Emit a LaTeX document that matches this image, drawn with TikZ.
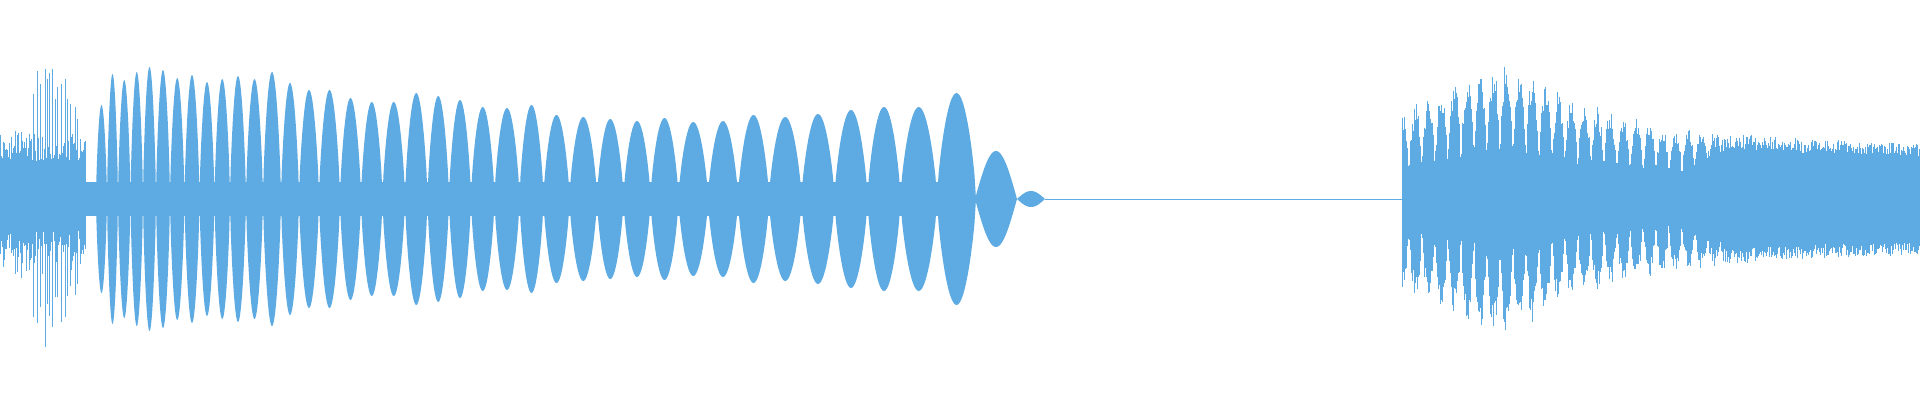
\documentclass[tikz,border=0pt]{standalone}
\definecolor{wave}{RGB}{93,171,226}
\begin{document}
\begin{tikzpicture}[x=1pt,y=-1pt,wl/.style={draw=wave,line width=1pt}]
\useasboundingbox (0,0) rectangle (1920,400);
\pgfmathsetseed{7}
% opening noise
\foreach \i in {0,...,85}{
  \pgfmathsetmacro\h{38+30*rnd}
  \pgfmathsetmacro\k{\h*(0.8+0.4*rnd)}
  \draw[wl] (\i,{199-\h}) -- (\i,{199+\k});
}
\foreach \xx/\hh in {33/105,37/128,40/115,45/130,47/120,49/126,52/130,55/100,57/112,61/115,65/120,67/100,70/95,75/92,77/80,80/60}{
  \pgfmathsetmacro\k{\hh*(0.85+0.3*rnd)}
  \draw[wl] (\xx,{199-\hh}) -- (\xx,{199+\k});
}
% waist band
\fill[wave] (85,182) rectangle (975,216);
% beating lobes
\foreach \a/\b/\A in {96/107/94,107/118/125,118/130.5/119,130.5/143/127,143/156/132,156/170/129,170/184.5/121,184.5/199.5/124,199.5/214.5/117,214.5/230/120,230/246/123,246/263/120,263/281/127,281/299/116,299/319/109,319/340/109,340/361/101,361/382.5/97,382.5/405/97,405/427.5/106,427.5/449/103,449/471/99,471/494.5/92,494.5/519.5/91,519.5/543.5/94,543.5/569.5/84,569.5/597/82,597/623.5/80,623.5/650.5/78,650.5/678.5/81,678.5/708/77,708/738/78,738/769/84,769/801.5/82,801.5/834.5/85,834.5/867.5/89,867.5/900.5/92,900.5/937/92,937/976/106}{
  \fill[wave] plot[domain=\a:\b,samples=25] (\x,{199-\A*sin(180*(\x-\a)/(\b-\a))^0.7})
    -- plot[domain=\b:\a,samples=25] (\x,{199+\A*sin(180*(\x-\a)/(\b-\a))^0.7}) -- cycle;
}
% smooth decaying lobes
\fill[wave] plot[domain=975:1017,samples=40] (\x,{199-48*sin(180*(\x-975)/42)})
  -- plot[domain=1017:975,samples=40] (\x,{199+48*sin(180*(\x-975)/42)}) -- cycle;
\fill[wave] plot[domain=1017:1045,samples=30] (\x,{199-8*sin(180*(\x-1017)/28)})
  -- plot[domain=1045:1017,samples=30] (\x,{199+8*sin(180*(\x-1017)/28)}) -- cycle;
% flat line
\draw[draw=wave,line width=1pt] (1045,199) -- (1402,199);
% final noisy section
\foreach \i in {1402,...,1920}{
  \pgfmathsetmacro\d{(\i-1506)/110}
  \pgfmathsetmacro\r{(\i-1402)/104}
  \pgfmathsetmacro\E{\i<1506 ? 85+50*\r : 52+83*exp(-\d)}
  \pgfmathsetmacro\w{\i<1680 ? 1 : max(0,1-(\i-1680)/60)}
  \pgfmathsetmacro\ph{(\i-1506)/13*180}
  \pgfmathsetmacro\m{1-0.75*\w+0.75*\w*abs(cos(\ph))^0.6}
  \pgfmathsetmacro\h{max(20,\E*\m*(0.8+0.25*rnd))}
  \pgfmathsetmacro\k{max(20,\E*\m*(0.8+0.25*rnd))}
  \draw[wl] (\i,{199-\h}) -- (\i,{199+\k});
}
\end{tikzpicture}
\end{document}
